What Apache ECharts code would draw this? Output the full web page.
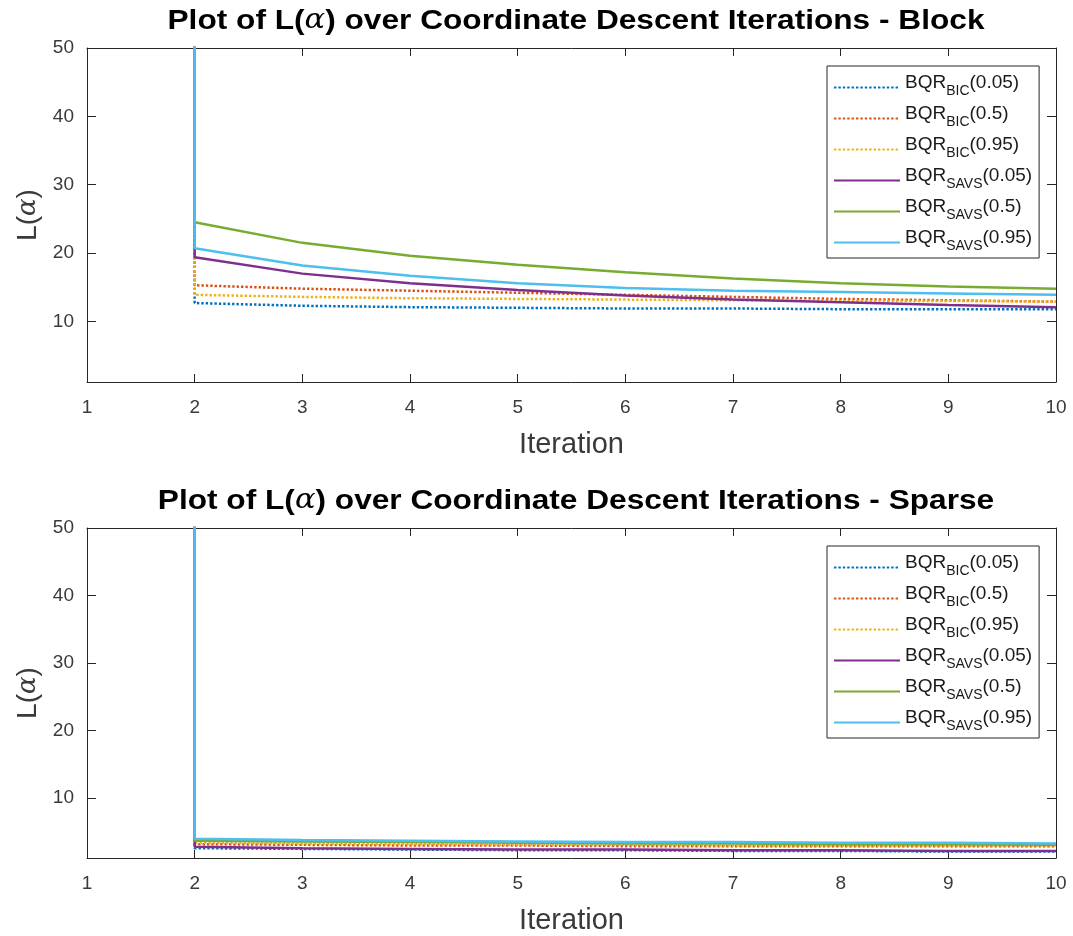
<!DOCTYPE html>
<html>
<head>
<meta charset="utf-8">
<script src="https://cdn.jsdelivr.net/npm/echarts@6/dist/echarts.min.js"></script>
<style>
html,body{margin:0;padding:0;background:#fff;}
#chart{width:1073px;height:936px;}
</style>
</head>
<body>
<div id="chart"></div>
<script>
// ---- data ----
const iterations = [2, 3, 4, 5, 6, 7, 8, 9, 10];
const xTicks = [1, 2, 3, 4, 5, 6, 7, 8, 9, 10];
const yTicks = [10, 20, 30, 40, 50];
// L(alpha) at the start of iteration 2 is above the 50 axis limit (shown as a vertical drop)
const startValue = 60;
const seriesNames = ['BQR_BIC(0.05)', 'BQR_BIC(0.5)', 'BQR_BIC(0.95)', 'BQR_SAVS(0.05)', 'BQR_SAVS(0.5)', 'BQR_SAVS(0.95)'];

// Block design
const blockBIC005  = [12.7, 12.3, 12.1, 12.0, 11.9, 11.9, 11.8, 11.8, 11.8];
const blockBIC05   = [15.3, 14.8, 14.5, 14.2, 13.9, 13.6, 13.3, 13.1, 12.9];
const blockBIC095  = [13.9, 13.6, 13.4, 13.3, 13.2, 13.1, 13.0, 13.0, 12.9];
const blockSAVS005 = [19.4, 17.0, 15.6, 14.6, 13.8, 13.2, 12.8, 12.4, 12.1];
const blockSAVS05  = [24.5, 21.5, 19.6, 18.3, 17.2, 16.3, 15.6, 15.1, 14.8];
const blockSAVS095 = [20.7, 18.2, 16.7, 15.6, 14.9, 14.5, 14.3, 14.1, 13.9];

// Sparse design
const sparseBIC005  = [2.6, 2.5, 2.4, 2.3, 2.3, 2.2, 2.2, 2.1, 2.1];
const sparseBIC05   = [3.2, 3.1, 3.0, 3.0, 2.9, 2.9, 2.9, 2.9, 2.9];
const sparseBIC095  = [3.4, 3.3, 3.2, 3.1, 3.1, 3.0, 3.0, 3.0, 3.0];
const sparseSAVS005 = [2.8, 2.6, 2.5, 2.4, 2.4, 2.3, 2.3, 2.2, 2.2];
const sparseSAVS05  = [3.7, 3.6, 3.5, 3.4, 3.3, 3.3, 3.2, 3.2, 3.1];
const sparseSAVS095 = [4.0, 3.8, 3.7, 3.6, 3.5, 3.5, 3.4, 3.4, 3.3];

// ---- styling ----
const colors = ['#0072BD', '#D95319', '#EDB120', '#7E2F8E', '#77AC30', '#4DBEEE'];
const dotted = [2.4, 2];
const lineTypes = [dotted, dotted, dotted, 'solid', 'solid', 'solid'];
const axisColor = '#262626';
const labelColor = '#3a3a3a';
const FONT = 'Liberation Sans, Arial, sans-serif';

const blockData = [blockBIC005, blockBIC05, blockBIC095, blockSAVS005, blockSAVS05, blockSAVS095];
const sparseData = [sparseBIC005, sparseBIC05, sparseBIC095, sparseSAVS005, sparseSAVS05, sparseSAVS095];

function toPairs(vals) {
  return [[iterations[0], startValue]].concat(iterations.map((it, i) => [it, vals[i]]));
}

function makeSeries(dataSets, xi, yi) {
  return dataSets.map((vals, k) => ({
    name: seriesNames[k],
    type: 'line',
    xAxisIndex: xi,
    yAxisIndex: yi,
    data: toPairs(vals),
    symbol: 'none',
    smooth: false,
    clip: true,
    animation: false,
    color: colors[k],
    lineStyle: { color: colors[k], width: 2.5, type: lineTypes[k] },
    z: 2 + k
  }));
}

function xAxisPair(gi) {
  const base = {
    gridIndex: gi, type: 'value', min: xTicks[0], max: xTicks[xTicks.length - 1], interval: 1,
    axisLine: { show: true, onZero: false, lineStyle: { color: axisColor, width: 1 } },
    axisTick: { show: true, inside: true, length: 8, lineStyle: { color: axisColor } },
    splitLine: { show: false }
  };
  return [
    Object.assign({}, base, {
      position: 'bottom',
      axisLabel: { fontSize: 19, color: labelColor, margin: 16, fontFamily: FONT },
      name: 'Iteration', nameLocation: 'middle', nameGap: 48,
      nameTextStyle: { fontSize: 29, color: labelColor, fontFamily: FONT }
    }),
    Object.assign({}, base, { position: 'top', axisLabel: { show: false } })
  ];
}

function yAxisPair(gi) {
  const base = {
    gridIndex: gi, type: 'value', min: 1.15, max: 50,
    axisLine: { show: true, onZero: false, lineStyle: { color: axisColor, width: 1 } },
    axisTick: { show: true, inside: true, length: 9, customValues: yTicks, lineStyle: { color: axisColor } },
    splitLine: { show: false }
  };
  return [
    Object.assign({}, base, {
      position: 'left',
      axisLabel: { fontSize: 19, color: labelColor, margin: 13, customValues: yTicks, fontFamily: FONT },
      name: '{n|L(}{a|α}{n|)}', nameLocation: 'middle', nameGap: 43,
      nameTextStyle: {
        rich: {
          n: { fontSize: 28, color: labelColor, fontFamily: FONT },
          a: { fontSize: 26, color: labelColor, fontFamily: 'DejaVu Serif, serif', fontStyle: 'italic' }
        }
      }
    }),
    Object.assign({}, base, { position: 'right', axisLabel: { show: false } })
  ];
}

function legendFor(topPx) {
  return {
    orient: 'vertical',
    left: 827, top: topPx,
    padding: [4, 7, 5, 6],
    itemGap: 3,
    itemWidth: 66, itemHeight: 14,
    borderColor: axisColor, borderWidth: 1, borderRadius: 0,
    backgroundColor: '#fff',
    data: seriesNames,
    selectedMode: false,
    itemStyle: { opacity: 0 },
    formatter: function (name) {
      const m = name.match(/^(BQR)_(\w+)(\(.*\))$/);
      return '{m|' + m[1] + '}{s|' + m[2] + '}{m|' + m[3] + '}';
    },
    textStyle: {
      rich: {
        m: { fontSize: 19, color: '#1a1a1a', fontFamily: FONT, lineHeight: 21, padding: [3, 0, 6, 0], verticalAlign: 'bottom' },
        s: { fontSize: 14, color: '#1a1a1a', fontFamily: FONT, lineHeight: 14, verticalAlign: 'bottom' }
      }
    }
  };
}

function titleText(suffix, y) {
  return {
    type: 'text', x: 576, y: y, scaleX: 1.13,
    style: {
      text: '{t|Plot of L(}{a|α}{t|) over Coordinate Descent Iterations - ' + suffix + '}',
      align: 'center', verticalAlign: 'middle',
      rich: {
        t: { fontSize: 28, fontWeight: 'bold', fill: '#000', fontFamily: FONT },
        a: { fontSize: 27, fontStyle: 'italic', fill: '#000', fontFamily: 'DejaVu Serif, serif' }
      }
    }
  };
}

const chart = echarts.init(document.getElementById('chart'), null, { renderer: 'canvas' });
chart.setOption({
  backgroundColor: '#fff',
  animation: false,
  grid: [
    { left: 87, right: 17, top: 48, height: 334 },
    { left: 87, right: 17, top: 528, height: 333 }
  ],
  xAxis: xAxisPair(0).concat(xAxisPair(1)),
  yAxis: yAxisPair(0).concat(yAxisPair(1)),
  legend: [legendFor(66), legendFor(546)],
  graphic: [titleText('Block', 21), titleText('Sparse', 501)],
  series: makeSeries(blockData, 0, 0).concat(makeSeries(sparseData, 2, 2))
});
</script>
</body>
</html>
